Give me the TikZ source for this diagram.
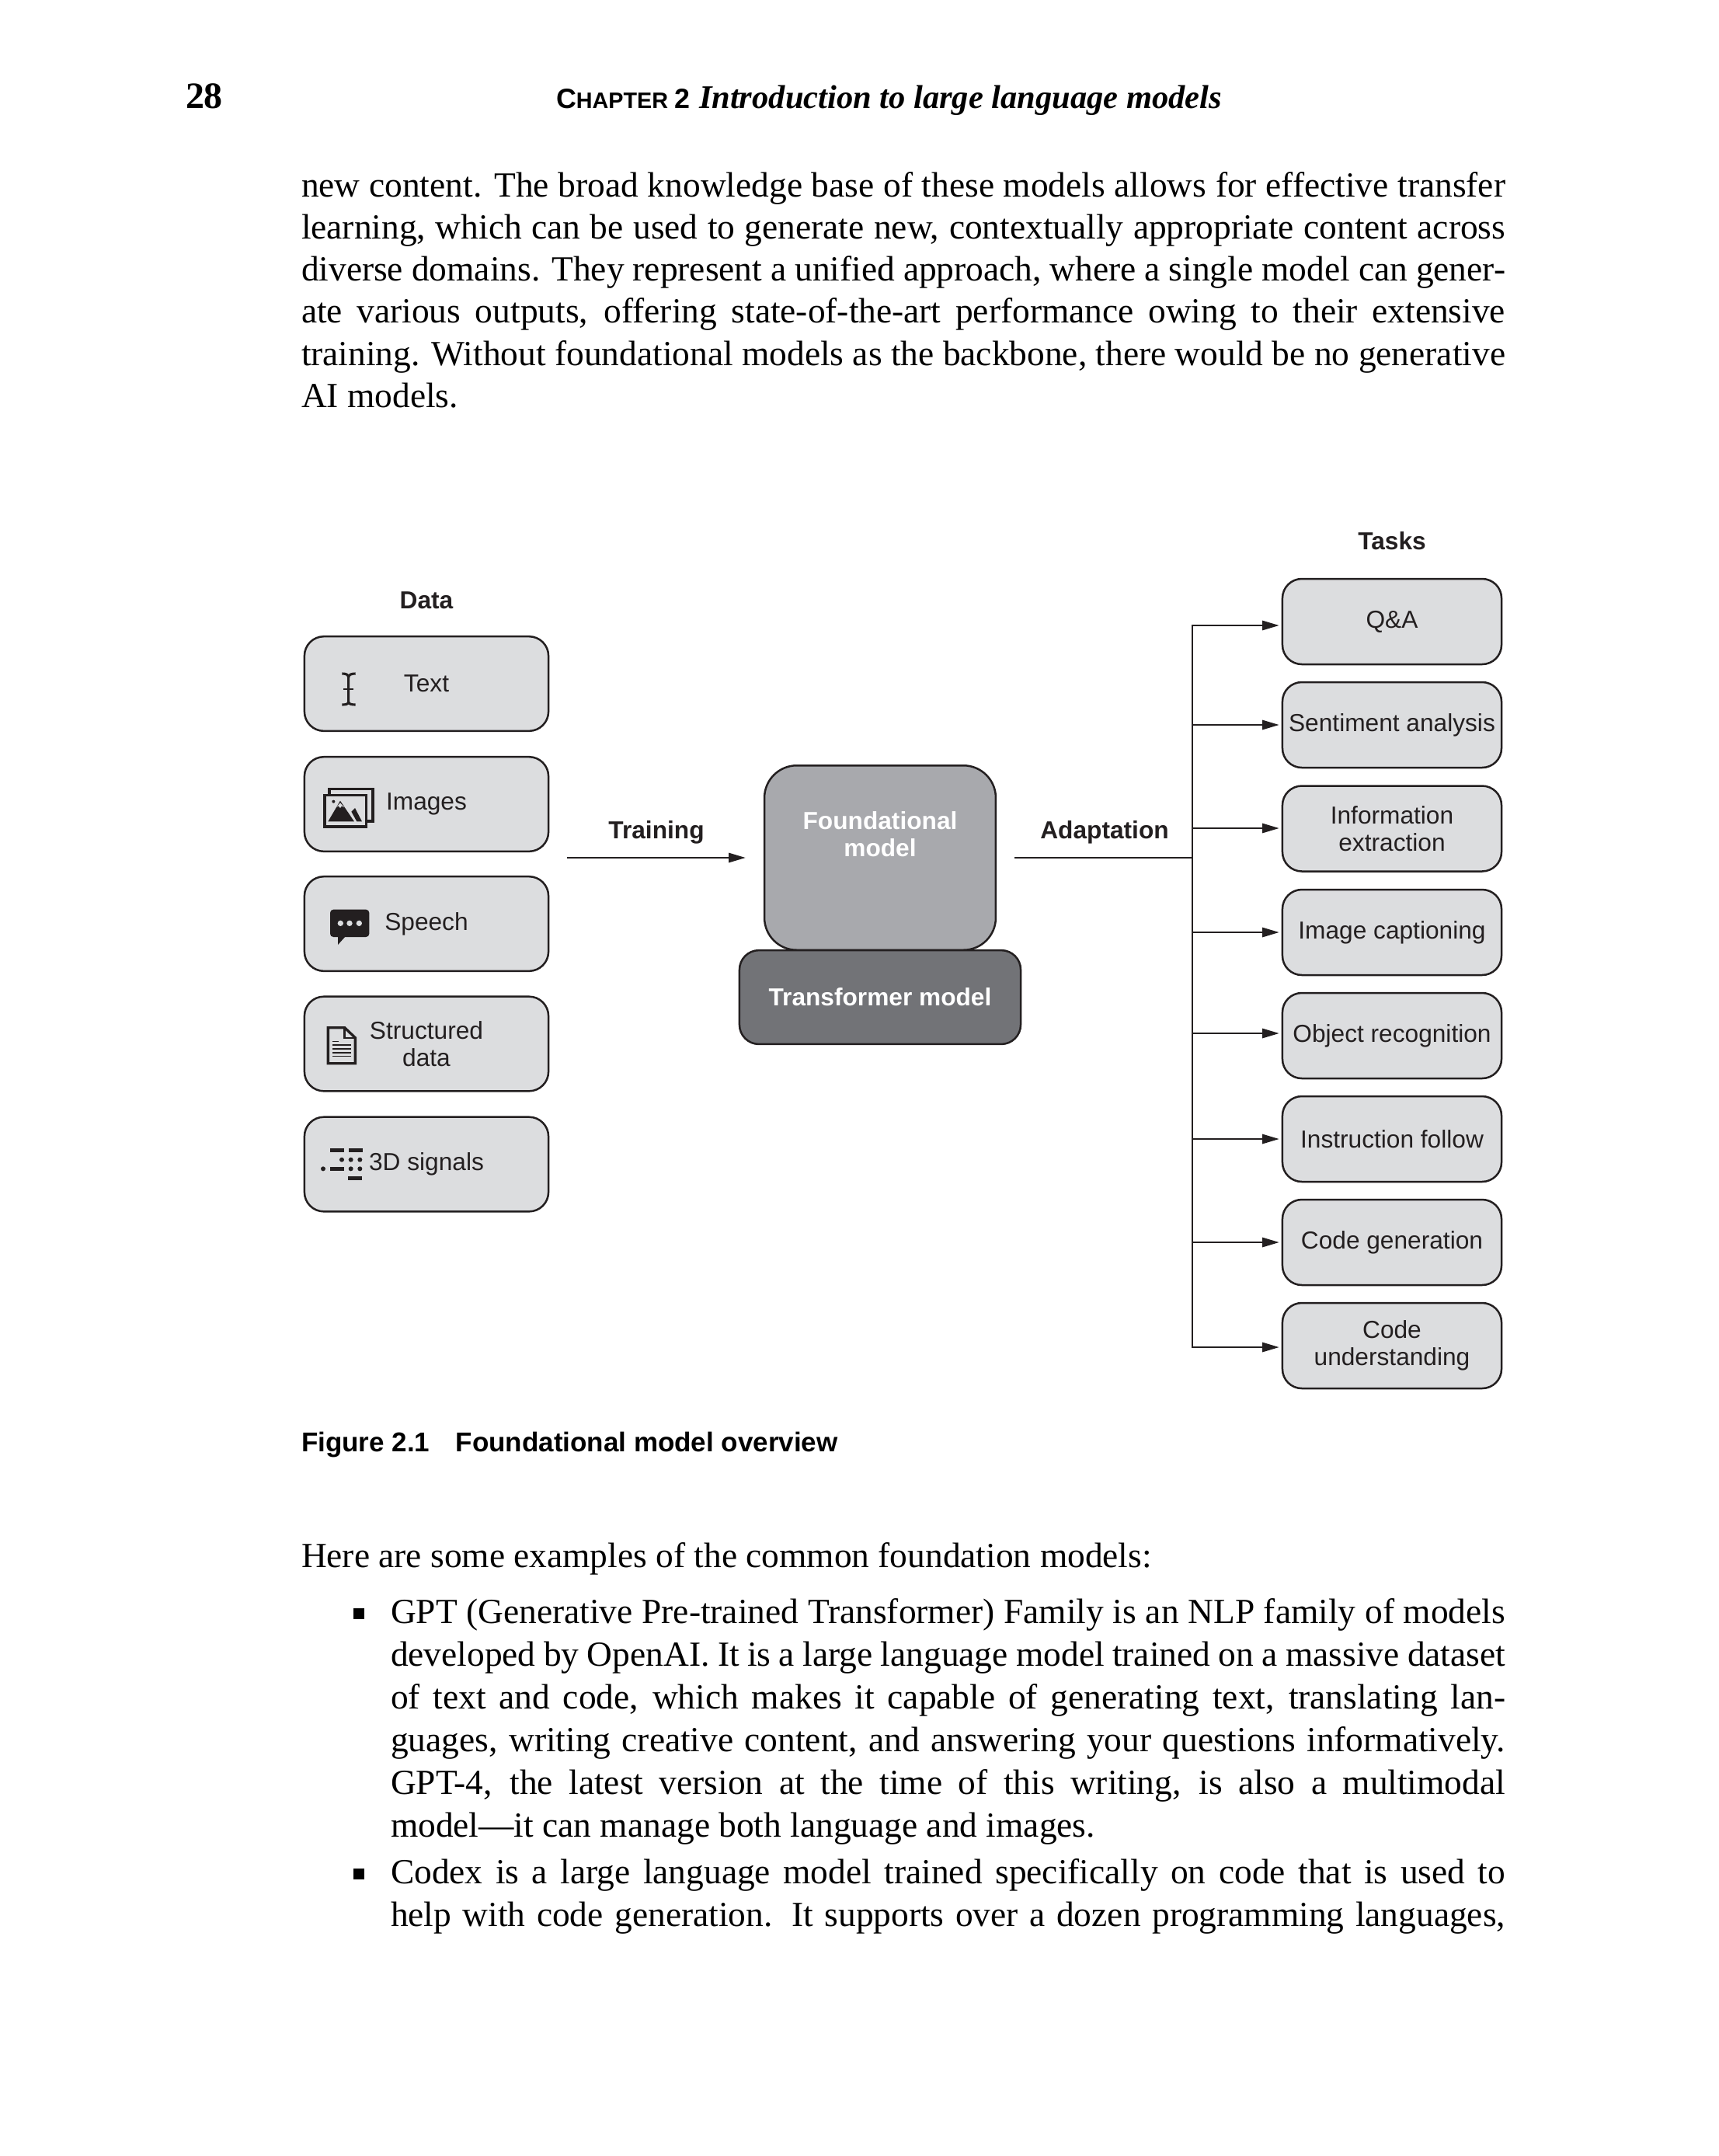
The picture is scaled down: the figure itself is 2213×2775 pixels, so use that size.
\documentclass[tikz,border=0pt]{standalone}
\usepackage{fontspec}
\usetikzlibrary{arrows.meta}
\setmainfont{Liberation Sans}
\newfontfamily\bodyf{Liberation Serif}
\definecolor{ink}{HTML}{231F20}
\definecolor{boxgray}{HTML}{DCDDDF}
\definecolor{fmgray}{HTML}{A8A9AD}
\definecolor{tmgray}{HTML}{727377}
\newcommand\bodytxt{\bodyf\fontsize{10.9pt}{13pt}\selectfont}
\newcommand\figtxt{\fontsize{7.6pt}{8.5pt}\selectfont}
\newcommand\figbold{\fontsize{7.6pt}{8.5pt}\selectfont\bfseries}
\newcommand\jl[3]{\node[pagetext] (#1) at (388,#2) {\makebox[372pt][s]{#3}};}
\newcommand\jb[3]{\node[pagetext] (#1) at (503,#2) {\makebox[344.4pt][s]{#3}};}
\newcommand\nl[4]{\node[pagetext] (#1) at (#2,#3) {#4};}
\tikzset{
  x=0.24pt,y=-0.24pt,
  pagetext/.style={anchor=base west,inner sep=0pt,outer sep=0pt,text=black,font=\bodytxt},
  roundbox/.style={draw=ink,line width=0.6pt,fill=boxgray,rounded corners=6pt,inner sep=0pt,align=center,text=ink,font=\figtxt},
  databox/.style={roundbox,minimum width=75.4pt,minimum height=29.2pt},
  taskbox/.style={roundbox,minimum width=67.7pt,minimum height=26.4pt},
  titletxt/.style={inner sep=0pt,text=ink,font=\figbold},
  arr/.style={draw=ink,line width=0.6pt,-{Triangle[length=5.2pt,width=2.9pt]}},
  wire/.style={draw=ink,line width=0.6pt},
  icon/.style={fill=ink,draw=none},
  iconline/.style={draw=ink,fill=none,line width=0.85pt}
}
\begin{document}
\begin{tikzpicture}
\path[use as bounding box,fill=white] (0,0) rectangle (2213,2775);

% running head
\node[pagetext,font=\bodyf\fontsize{11.5pt}{13pt}\selectfont\bfseries] (pg) at (239,139) {28};
\node[pagetext,font=\fontsize{8.6pt}{10pt}\selectfont\bfseries] (chap) at (716,139) {C\fontsize{6.9pt}{10pt}\selectfont HAPTER \fontsize{8.6pt}{10pt}\selectfont 2};
\node[pagetext,font=\bodyf\fontsize{10.2pt}{13pt}\selectfont\bfseries\itshape] (chapt) at (900,139) {Introduction to large language models};

% top paragraph
\jl{la}{253}{new content. The broad knowledge base of these models allows for effective transfer}
\jl{lb}{307}{learning, which can be used to generate new, contextually appropriate content across}
\jl{lc}{361}{diverse domains. They represent a unified approach, where a single model can gener-}
\jl{ld}{415.5}{ate various outputs, offering state-of-the-art performance owing to their extensive}
\jl{le}{470}{training. Without foundational models as the backbone, there would be no generative}
\nl{lf}{388}{524}{AI models.}

% data column
\node[titletxt] (datat) at (549,773) {Data};
\node[databox] (text) at (549,880) {Text};
\node[databox] (images) at (549,1035) {Images};
\node[databox] (speech) at (549,1189) {Speech};
\node[databox] (struct) at (549,1343.5) {Structured\\data};
\node[databox] (signals) at (549,1498.5) {3D signals};

% centre
\node[roundbox,draw=ink,fill=fmgray,rounded corners=10pt,minimum width=71.5pt,minimum height=57pt,text=white,font=\figbold] (found) at (1133,1104) {Foundational\\model\\[6pt]};
\node[roundbox,fill=tmgray,minimum width=86.9pt,minimum height=29pt,text=white,font=\figbold] (trans) at (1133,1283.5) {Transformer model};

% tasks
\node[titletxt] (taskst) at (1792,696) {Tasks};
\node[taskbox] (t1) at (1792,800) {Q\&A};
\node[taskbox] (t2) at (1792,933) {Sentiment analysis};
\node[taskbox] (t3) at (1792,1066.5) {Information\\extraction};
\node[taskbox] (t4) at (1792,1200) {Image captioning};
\node[taskbox] (t5) at (1792,1333) {Object recognition};
\node[taskbox] (t6) at (1792,1466) {Instruction follow};
\node[taskbox] (t7) at (1792,1599) {Code generation};
\node[taskbox] (t8) at (1792,1732) {Code\\understanding};

% connectors
\node[titletxt] (trainl) at (845,1071) {Training};
\node[titletxt] (adaptl) at (1422,1071) {Adaptation};
\coordinate (ts) at (730,1104);
\draw[arr,shorten >=5.5pt] (ts) -- (found.west);
\coordinate (trunk) at (1535,1104);
\draw[wire,shorten <=5.5pt] (found.east) -- (trunk);
\coordinate (c1) at (1535,805);
\coordinate (c2) at (1535,933);
\coordinate (c3) at (1535,1066);
\coordinate (c4) at (1535,1200);
\coordinate (c5) at (1535,1330);
\coordinate (c6) at (1535,1466);
\coordinate (c7) at (1535,1599);
\coordinate (c8) at (1535,1734);
\draw[wire,line cap=rect] (c1) -- (c8);
\foreach \k in {1,...,8}{\draw[arr,shorten >=0.7pt] (c\k) -- (c\k -| t\k.west);}

% caption
\node[pagetext,font=\fontsize{8.4pt}{10pt}\selectfont\bfseries] (cap) at (388,1868) {Figure 2.1\hspace{8pt}Foundational model overview};

% icons, in zoom coordinates of the first crop
\begin{scope}[shift={(370,740)},x=0.08pt,y=-0.08pt]
  % cursor
  \draw[draw=ink,fill=none,line width=0.75pt] (211,381) .. controls (225,381) and (236,384) .. (236,396) -- (236,490) .. controls (236,499) and (225,501) .. (211,501);
  \draw[draw=ink,fill=none,line width=0.75pt] (263,381) .. controls (249,381) and (236,384) .. (236,396);
  \draw[draw=ink,fill=none,line width=0.75pt] (263,501) .. controls (249,501) and (236,499) .. (236,490);
  \draw[draw=ink,line width=0.6pt] (217,441) -- (256,441);
  % images
  \draw[iconline] (162,845) -- (162,826) -- (330,826) -- (330,951) -- (310,951);
  \draw[iconline] (144,851) rectangle (304,972);
  \fill[icon] (157,952) -- (204,872) -- (258,952) -- cycle;
  \fill[icon] (247,914) -- (261,900) -- (288,952) -- (268,952) -- cycle;
  \fill[icon] (178,875) circle (6);
  \fill[boxgray] (190,896) -- (204,880) -- (220,898) -- (210,892) -- (204,900) -- (197,892) -- cycle;
\end{scope}
\begin{scope}[shift={(370,1120)},x=0.08pt,y=-0.08pt]
  % speech
  \fill[icon,rounded corners=1pt] (165,152) rectangle (316,258);
  \fill[icon] (195,256) -- (195,288) -- (224,256) -- cycle;
  \foreach \px in {205,240,277}{\fill[boxgray] (\px,205) circle (11);}
  % document
  \draw[iconline,line width=0.8pt] (157,608) -- (221,608) -- (262,647) -- (262,746) -- (157,746) -- cycle;
  \draw[iconline,line width=0.6pt] (221,608) -- (221,648) -- (262,648);
  \draw[draw=ink,line width=0.4pt] (175,661) -- (197,661);
  \foreach \py in {675,690,705,718}{\draw[draw=ink,line width=0.4pt] (175,\py) -- (245,\py);}
  % signals
  \fill[icon] (165,1074) rectangle (218,1090);
  \fill[icon] (237,1074) rectangle (290,1090);
  \fill[icon] (165,1146) rectangle (218,1162);
  \fill[icon] (235,1181) rectangle (288,1197);
  \foreach \px in {210,245,280}{\fill[icon] (\px,1118) circle (9);}
  \foreach \px in {138,245,280}{\fill[icon] (\px,1153) circle (9);}
\end{scope}

% bottom text
\nl{ma}{388}{2017}{Here are some examples of the common foundation models:}
\node[fill=black,inner sep=0pt,minimum size=3.3pt] (ba) at (462,2077) {};
\jb{mb}{2089}{GPT (Generative Pre-trained Transformer) Family is an NLP family of models}
\jb{mc}{2144}{developed by OpenAI. It is a large language model trained on a massive dataset}
\jb{md}{2199}{of text and code, which makes it capable of generating text, translating lan-}
\jb{me}{2254}{guages, writing creative content, and answering your questions informatively.}
\jb{mf}{2309}{GPT-4, the latest version at the time of this writing, is also a multimodal}
\nl{mg}{503}{2364}{model—it can manage both language and images.}
\node[fill=black,inner sep=0pt,minimum size=3.3pt] (bb) at (462,2412) {};
\jb{mh}{2424}{Codex is a large language model trained specifically on code that is used to}
\jb{mi}{2479}{help with code generation. It supports over a dozen programming languages,}
\end{tikzpicture}
\end{document}
